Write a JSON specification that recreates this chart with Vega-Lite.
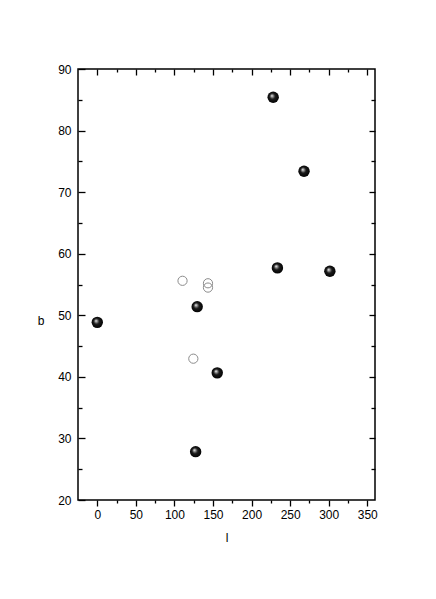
{
  "$schema": "https://vega.github.io/schema/vega-lite/v6.json",
  "width": 297,
  "height": 431,
  "autosize": {"type": "none"},
  "padding": {"left": 78, "top": 69, "right": 61, "bottom": 99},
  "background": "white",
  "config": {
    "view": {"stroke": "black", "strokeWidth": 1.5},
    "font": "Liberation Sans",
    "axis": {
      "domain": false, "grid": false, "tickColor": "black", "tickWidth": 1.3,
      "labelFont": "Liberation Sans", "labelFontSize": 12, "labelColor": "#000000",
      "titleFont": "Liberation Sans", "titleFontSize": 12, "titleFontWeight": "normal", "titleColor": "#000000"
    }
  },
  "datasets": {
    "filled": [
      {"l": 0, "b": 48.85},
      {"l": 228, "b": 85.4},
      {"l": 268, "b": 73.4},
      {"l": 233.5, "b": 57.7},
      {"l": 301.5, "b": 57.15},
      {"l": 129.5, "b": 51.4},
      {"l": 155.5, "b": 40.65},
      {"l": 127.5, "b": 27.85}
    ],
    "open": [
      {"l": 110.5, "b": 55.6},
      {"l": 143.5, "b": 55.2},
      {"l": 143.5, "b": 54.5},
      {"l": 124.5, "b": 42.95}
    ]
  },
  "resolve": {"axis": {"x": "independent", "y": "independent"}},
  "layer": [
    {
      "data": {"name": "open"},
      "mark": {"type": "point", "shape": "circle", "size": 85, "filled": false, "stroke": "#8c8c8c", "strokeWidth": 1, "opacity": 1},
      "encoding": {
        "x": {"field": "l", "type": "quantitative",
              "scale": {"domain": [-25, 360], "nice": false, "zero": false},
              "axis": {"orient": "bottom", "values": [25, 75, 125, 175, 225, 275, 325], "labels": false, "title": null, "tickSize": 3}},
        "y": {"field": "b", "type": "quantitative",
              "scale": {"domain": [20, 90], "nice": false, "zero": false},
              "axis": {"orient": "left", "values": [25, 35, 45, 55, 65, 75, 85], "labels": false, "title": null, "tickSize": -4}}
      }
    },
    {
      "data": {"name": "open"},
      "mark": {"type": "point", "opacity": 0},
      "encoding": {
        "x": {"field": "l", "type": "quantitative",
              "axis": {"orient": "top", "values": [0, 50, 100, 150, 200, 250, 300, 350], "labels": false, "title": null, "tickSize": -6}},
        "y": {"field": "b", "type": "quantitative",
              "axis": {"orient": "right", "values": [30, 40, 50, 60, 70, 80], "labels": false, "title": null, "tickSize": -6}}
      }
    },
    {
      "data": {"name": "open"},
      "mark": {"type": "point", "opacity": 0},
      "encoding": {
        "x": {"field": "l", "type": "quantitative",
              "axis": {"orient": "top", "values": [25, 75, 125, 175, 225, 275, 325], "labels": false, "title": null, "tickSize": -3}},
        "y": {"field": "b", "type": "quantitative",
              "axis": {"orient": "right", "values": [25, 35, 45, 55, 65, 75, 85], "labels": false, "title": null, "tickSize": -4}}
      }
    },
    {
      "data": {"name": "filled"},
      "mark": {"type": "point", "shape": "circle", "size": 130, "filled": true, "opacity": 1, "strokeWidth": 0,
               "fill": {"gradient": "radial", "x1": 0.38, "y1": 0.35, "r1": 0, "x2": 0.5, "y2": 0.5, "r2": 0.55,
                        "stops": [{"offset": 0, "color": "#ffffff"}, {"offset": 0.18, "color": "#9a9a9a"}, {"offset": 0.45, "color": "#1a1a1a"}, {"offset": 1, "color": "#000000"}]}},
      "encoding": {
        "x": {"field": "l", "type": "quantitative",
              "axis": {"orient": "bottom", "values": [0, 50, 100, 150, 200, 250, 300, 350], "tickSize": 6, "labelPadding": 3, "labelColor": "#000000", "title": "l", "titleColor": "#000000", "titlePadding": 12}},
        "y": {"field": "b", "type": "quantitative",
              "axis": {"orient": "left", "values": [20, 30, 40, 50, 60, 70, 80, 90], "tickSize": -7, "labelPadding": 14, "labelColor": "#000000", "title": "b", "titleColor": "#000000", "titleAngle": 0, "titleBaseline": "middle", "titleAlign": "center", "titlePadding": 17, "titleY": 251}}
      }
    }
  ]
}
